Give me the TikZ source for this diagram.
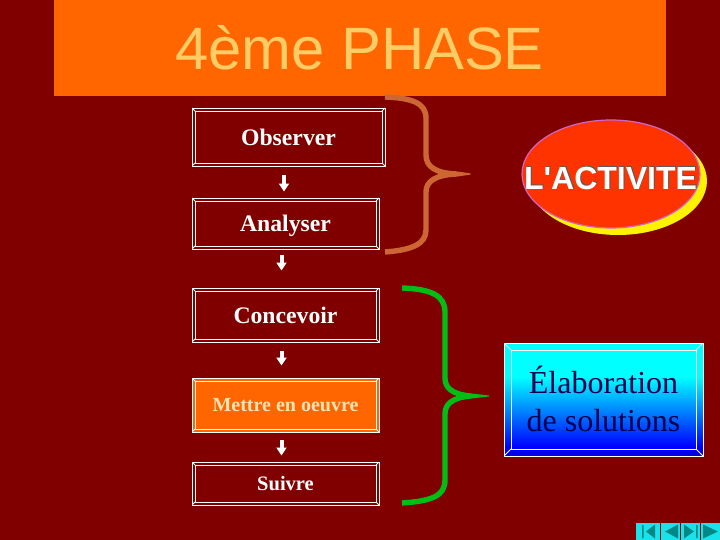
\documentclass[tikz,border=0pt]{standalone}
\usepackage{fontspec}
\setmainfont{Liberation Serif}
\setsansfont{Liberation Sans}
\usetikzlibrary{arrows.meta,shapes.geometric}
\definecolor{maroonbg}{HTML}{800000}
\definecolor{bannerorange}{HTML}{FF6600}
\definecolor{titlesand}{HTML}{FFCC66}
\definecolor{creamtext}{HTML}{FFE3B5}
\definecolor{braceorange}{HTML}{CC6633}
\definecolor{bracegreen}{HTML}{00BE14}
\definecolor{navteal}{HTML}{008888}
\definecolor{navcyan}{HTML}{19E3EA}
\definecolor{skycyan}{HTML}{00FFFF}
\definecolor{skyblue}{HTML}{0000FF}
\definecolor{skydeep}{HTML}{0000D8}
\pgfdeclareverticalshading{skyfade}{100bp}{color(0bp)=(skydeep); color(25bp)=(skydeep); color(29bp)=(skyblue); color(60bp)=(skycyan); color(75bp)=(skycyan); color(100bp)=(skycyan)}
\tikzset{
  bevelbox/.style={draw=white,line width=.9pt,inner sep=0pt,align=center,
    path picture={
      \draw[white,line width=.8pt]
        ([shift={(#1,-#1)}]path picture bounding box.north west) rectangle
        ([shift={(-#1,#1)}]path picture bounding box.south east);
      \draw[white,line width=.8pt]
        (path picture bounding box.north west) -- ++(#1,-#1)
        (path picture bounding box.north east) -- ++(-#1,-#1)
        (path picture bounding box.south west) -- ++(#1,#1)
        (path picture bounding box.south east) -- ++(-#1,#1);
    }},
  stagebox/.style={bevelbox=3pt,text=white,font=\fontsize{23.7}{27}\selectfont\bfseries,fill=maroonbg},
  flowarrow/.style={white,line width=4pt,-{Triangle[width=10pt,length=8pt]}},
  bracestroke/.style={line width=5.4pt},
  navbutton/.style={fill=navcyan,inner sep=0pt,minimum height=17pt,anchor=north west}
}
\begin{document}
\begin{tikzpicture}[x=1pt,y=1pt]
        \fill[maroonbg] (0,0) rectangle (720,-540);
        \useasboundingbox (0,0) rectangle (720,-540);

        % title
        \node[fill=bannerorange,minimum width=612pt,minimum height=96pt,inner sep=0pt,anchor=north west] (Banner) at (54,0) {};
        \node[text=titlesand,font=\sffamily\fontsize{59.8}{64}\selectfont] (Title) at (359.5,-48) {4ème PHASE};

        % the five steps
        \node[stagebox,minimum width=193pt,minimum height=58pt] (Observer) at (288.5,-137) {Observer};
        \node[stagebox,minimum width=187pt,minimum height=51pt,text depth=0pt] (Analyser) [below of=Observer,node distance=86.5pt,xshift=-3pt] {Analyser};
        \node[stagebox,minimum width=187pt,minimum height=54pt] (Concevoir) [below of=Analyser,node distance=91.5pt] {Concevoir};
        \node[stagebox,minimum width=187pt,minimum height=54pt,fill=bannerorange,text=creamtext,font=\fontsize{20}{23}\selectfont\bfseries] (Mettre) [below of=Concevoir,node distance=90pt] {Mettre en oeuvre};
        \node[stagebox,minimum width=187pt,minimum height=43pt,font=\fontsize{20.5}{24}\selectfont\bfseries] (Suivre) [below of=Mettre,node distance=78.5pt] {Suivre};

        \draw[flowarrow,shorten <=9pt,shorten >=6pt] ([xshift=-1.5pt]Analyser.north |- Observer.south) -- ([xshift=-1.5pt]Analyser.north);
        \draw[flowarrow,shorten <=6pt,shorten >=17pt] ([xshift=-4pt]Analyser.south) -- ([xshift=-4pt]Concevoir.north);
        \draw[flowarrow,shorten <=9pt,shorten >=12pt] ([xshift=-4pt]Concevoir.south) -- ([xshift=-4pt]Mettre.north);
        \draw[flowarrow,shorten <=8pt,shorten >=6pt] ([xshift=-4pt]Mettre.south) -- ([xshift=-4pt]Suivre.north);

        % braces
        \draw[braceorange,bracestroke] (385,-97) .. controls (412,-98) and (426,-103) .. (426,-118) -- (426,-155)
          .. controls (426,-167) and (436,-173) .. (456,-174);
        \draw[braceorange,bracestroke] (385,-252) .. controls (412,-250) and (426,-244) .. (426,-230) -- (426,-192)
          .. controls (426,-181) and (436,-175) .. (456,-174);
        \fill[braceorange] (456,-176.7) -- (470.5,-174.6) -- (470.5,-173.4) -- (456,-171.3) -- cycle;

        \draw[bracegreen,bracestroke] (402,-288) .. controls (432,-289) and (445,-296) .. (445,-312) -- (445,-378)
          .. controls (445,-388) and (452,-394) .. (470,-396);
        \draw[bracegreen,bracestroke] (402,-503) .. controls (432,-501) and (445,-496) .. (445,-480) -- (445,-414)
          .. controls (445,-404) and (452,-398) .. (470,-396);
        \fill[bracegreen] (470,-398.7) -- (489,-396.5) -- (489,-395.5) -- (470,-393.3) -- cycle;

        % the two results
        \node[ellipse,minimum width=178pt,minimum height=108pt,fill=yellow,inner sep=0pt] (Shade) at (618,-181) {};
        \node[ellipse,draw={rgb,255:red,204;green,102;blue,204},line width=1.2pt,fill={rgb,255:red,255;green,51;blue,0},minimum width=178pt,minimum height=108pt,inner sep=0pt] (Activite) at (611,-174) {};
        \node[text=gray!70!black,font=\sffamily\bfseries\fontsize{32}{34}\selectfont] (ActiviteShade) at (611.5,-177) {L\textquotesingle ACTIVITE};
        \node[text=white,font=\sffamily\bfseries\fontsize{32}{34}\selectfont] (ActiviteText) at (610.5,-178) {L\textquotesingle ACTIVITE};

        \node[bevelbox=7pt,shading=skyfade,minimum width=199pt,minimum height=113pt,text={rgb,255:red,0;green,0;blue,80},font=\fontsize{32}{38}\selectfont] (Solutions) at (603.5,-399.5) {\raisebox{2pt}{Élaboration}\\\raisebox{2pt}{de solutions}};

        % navigation buttons
        \node[navbutton,minimum width=24pt] (NavFirst) at (636,-523) {};
        \node[navbutton,minimum width=19pt] (NavPrev) at (661,-523) {};
        \node[navbutton,minimum width=19pt] (NavNext) at (681,-523) {};
        \node[navbutton,minimum width=19pt] (NavLast) at (701,-523) {};
        \fill[navteal] (642,-525) rectangle (643.5,-538) (655,-524.5) -- (646,-531.5) -- (655,-538.5) -- cycle;
        \fill[navteal] (678,-524.5) -- (665,-531.5) -- (678,-538.5) -- cycle;
        \fill[navteal] (684,-524.5) -- (694,-531.5) -- (684,-538.5) -- cycle (696,-525) rectangle (697.5,-538);
        \fill[navteal] (703,-524.5) -- (718,-531.5) -- (703,-538.5) -- cycle;
\end{tikzpicture}
\end{document}
